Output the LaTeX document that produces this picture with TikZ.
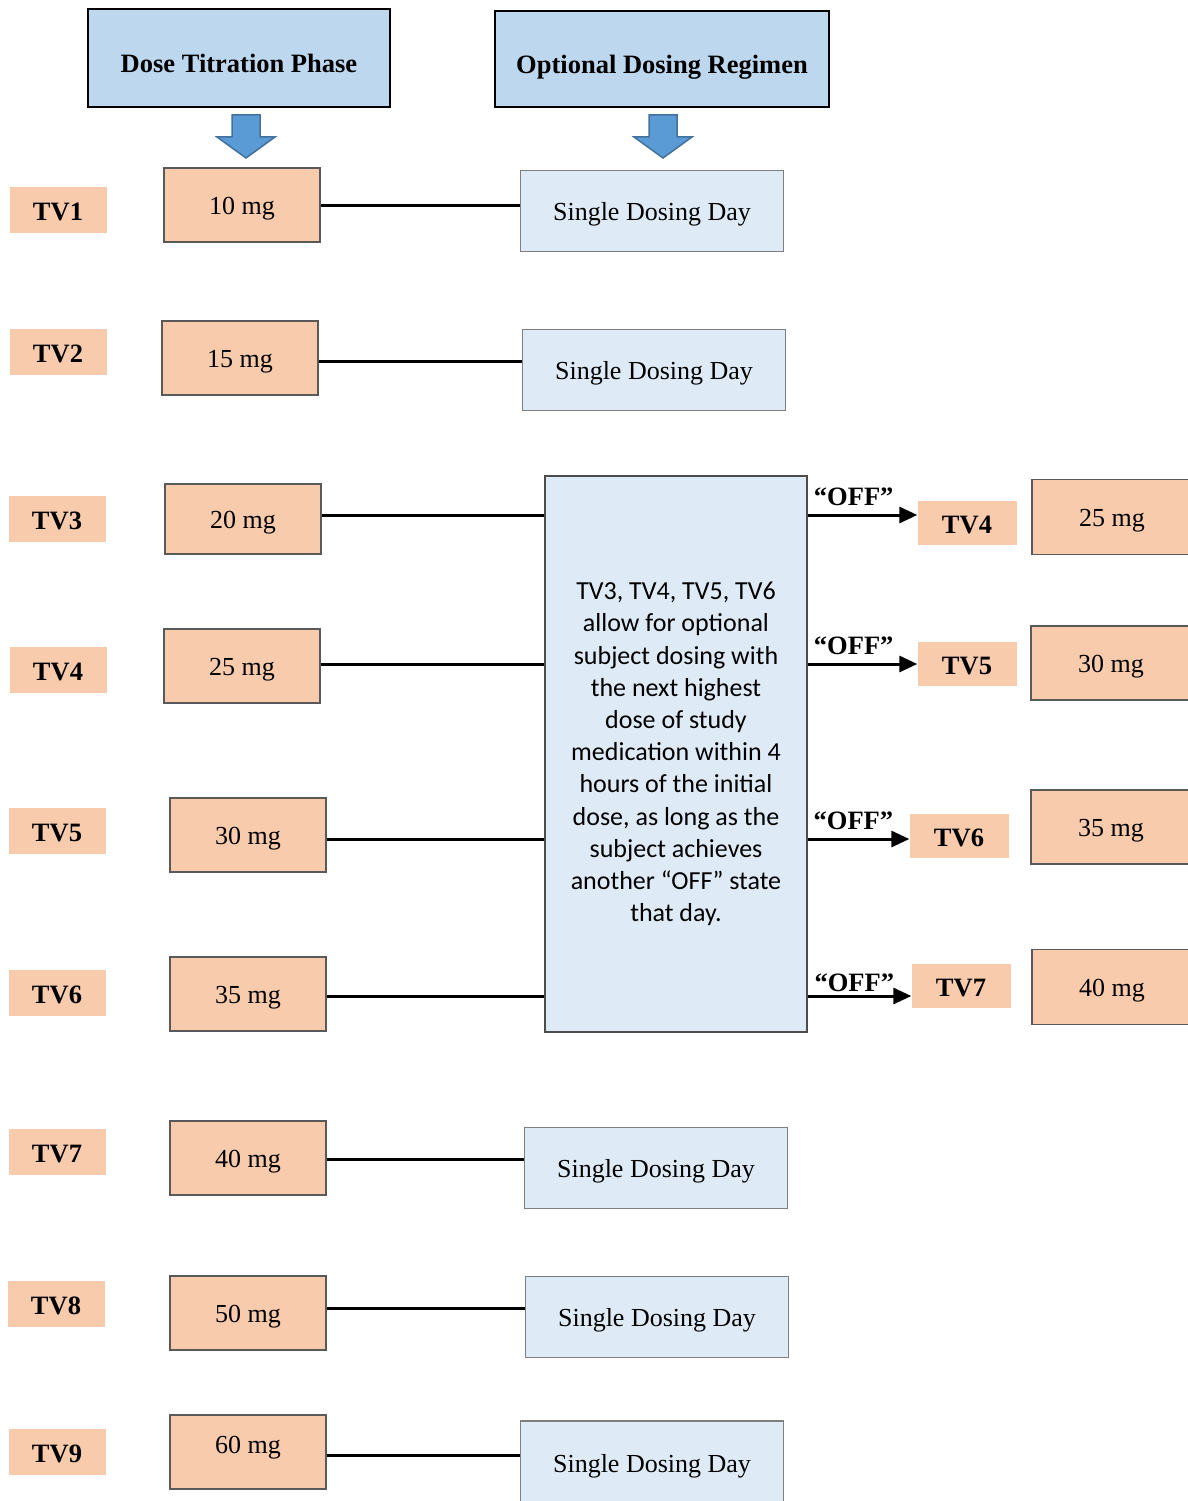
\documentclass[tikz,border=0pt]{standalone}
\usepackage{fontspec}
\setmainfont{Liberation Serif}
\newfontfamily\calibriFont{Carlito}
\usepackage{tikz}
\usetikzlibrary{shapes,arrows.meta,positioning}

\definecolor{headBlue}{HTML}{BDD7EE}
\definecolor{paleBlue}{HTML}{DEEBF7}
\definecolor{salmon}{HTML}{F8CBAD}
\definecolor{arrowBlue}{HTML}{5B9BD5}
\definecolor{arrowEdge}{HTML}{41719C}
\definecolor{doseEdge}{HTML}{595959}
\definecolor{dayEdge}{HTML}{7F7F7F}

\newcommand{\plainFont}{\fontsize{26}{30}\selectfont}
\newcommand{\heavyFont}{\fontsize{26.5}{30}\selectfont\bfseries}

\tikzstyle{phase} = [rectangle, draw=black, fill=headBlue, line width=2.5pt,
    inner sep=0pt, text height=32pt, text depth=2pt, font=\heavyFont]
\tikzstyle{tvLabel} = [rectangle, fill=salmon, minimum width=97pt,
    minimum height=46pt, inner sep=0pt, text height=21pt, text depth=0pt, font=\heavyFont]
\tikzstyle{dose} = [rectangle, draw=doseEdge, fill=salmon, line width=1.5pt,
    minimum width=156pt, minimum height=74pt, inner sep=0pt,
    text height=23pt, text depth=5pt, font=\plainFont]
\tikzstyle{singleDay} = [rectangle, draw=dayEdge, fill=paleBlue, line width=1.3pt,
    minimum width=263pt, minimum height=81pt, inner sep=0pt,
    text height=23pt, text depth=5pt, font=\plainFont]
\tikzstyle{plan} = [rectangle, draw=black!70, fill=paleBlue, line width=1.3pt,
    minimum width=262pt, minimum height=556pt, inner sep=0pt, align=center,
    font=\calibriFont\fontsize{26}{32.2}\selectfont]
\tikzstyle{link} = [draw, line width=3pt]
\tikzstyle{offLabel} = [above, inner sep=3pt, font=\heavyFont]
\tikzstyle{blockArrow} = [draw=arrowEdge, fill=arrowBlue, line width=1.5pt, line join=miter]

\begin{document}
\begin{tikzpicture}[x=1pt, y=-1pt, >={Triangle[length=18pt,width=16pt]}]
    \useasboundingbox (0,0) rectangle (1187,1501);

    % headers
    \node[phase, minimum width=302pt, minimum height=98pt] (titration) at (239,58) {Dose Titration Phase};
    \node[phase, minimum width=334pt, minimum height=96pt] (regimen) at (662,59) {Optional Dosing Regimen};

    % block arrows under the headers
    \coordinate (titrationTip) at (246,158);
    \coordinate (regimenTip) at (663,158);
    \draw[blockArrow] (titrationTip) -- ++(-29,-21) -- ++(15,0) -- ++(0,-22) -- ++(28,0)
        -- ++(0,22) -- ++(15,0) -- cycle;
    \draw[blockArrow] (regimenTip) -- ++(-29,-21) -- ++(15,0) -- ++(0,-22) -- ++(28,0)
        -- ++(0,22) -- ++(15,0) -- cycle;

    % titration visits
    \node[tvLabel] (tv1) at (58,210) {TV1};
    \node[tvLabel] (tv2) at (58,352) {TV2};
    \node[tvLabel] (tv3) at (57,519) {TV3};
    \node[tvLabel] (tv4) at (58,670) {TV4};
    \node[tvLabel] (tv5) at (57,831) {TV5};
    \node[tvLabel] (tv6) at (57,993) {TV6};
    \node[tvLabel] (tv7) at (57,1152) {TV7};
    \node[tvLabel] (tv8) at (56,1304) {TV8};
    \node[tvLabel] (tv9) at (57,1452) {TV9};

    % doses
    \node[dose] (dose10) at (242,205) {10 mg};
    \node[dose] (dose15) at (240,358) {15 mg};
    \node[dose, minimum height=70pt] (dose20) at (243,519) {20 mg};
    \node[dose] (dose25) at (242,666) {25 mg};
    \node[dose] (dose30) at (248,835) {30 mg};
    \node[dose] (dose35) at (248,994) {35 mg};
    \node[dose] (dose40) at (248,1158) {40 mg};
    \node[dose] (dose50) at (248,1313) {50 mg};
    \node[dose, text depth=20pt] (dose60) at (248,1452) {60 mg};

    % single dosing days
    \node[singleDay] (day1) at (652,211) {Single Dosing Day};
    \node[singleDay] (day2) at (654,370) {Single Dosing Day};
    \node[singleDay] (day7) at (656,1168) {Single Dosing Day};
    \node[singleDay] (day8) at (657,1317) {Single Dosing Day};
    \node[singleDay, minimum height=84pt] (day9) at (652,1463) {Single Dosing Day};

    % optional dosing box
    \node[plan] (optional) at (676,754) {TV3, TV4, TV5, TV6\\allow for optional\\subject dosing with\\the next highest\\dose of study\\medication within 4\\hours of the initial\\dose, as long as the\\subject achieves\\another “OFF” state\\that day.};

    % next visits
    \node[tvLabel, minimum width=99pt, minimum height=44pt] (nextTv4) at (967,523) {TV4};
    \node[tvLabel, minimum width=99pt, minimum height=44pt] (nextTv5) at (967,664) {TV5};
    \node[tvLabel, minimum width=99pt, minimum height=44pt] (nextTv6) at (959,836) {TV6};
    \node[tvLabel, minimum width=99pt, minimum height=44pt] (nextTv7) at (961,986) {TV7};

    \node[dose, minimum width=160pt, minimum height=75pt] (nextDose25) at (1112,517) {25 mg};
    \node[dose, minimum width=160pt] (nextDose30) at (1111,663) {30 mg};
    \node[dose, minimum width=160pt] (nextDose35) at (1111,827) {35 mg};
    \node[dose, minimum width=160pt, minimum height=75pt] (nextDose40) at (1112,987) {40 mg};

    % line heights
    \coordinate (line10) at (dose10.east);
    \coordinate (line15) at ([yshift=-3pt]dose15.east);
    \coordinate (line20) at ([yshift=4pt]dose20.east);
    \coordinate (line25) at ([yshift=2pt]dose25.east);
    \coordinate (line30) at ([yshift=-4pt]dose30.east);
    \coordinate (line35) at ([yshift=-2pt]dose35.east);
    \coordinate (line40) at ([yshift=-1pt]dose40.east);
    \coordinate (line50) at ([yshift=5pt]dose50.east);
    \coordinate (line60) at ([yshift=-3pt]dose60.east);

    \path[link] (line10) -- (line10 -| day1.west);
    \path[link] (line15) -- (line15 -| day2.west);
    \path[link] (line20) -- (line20 -| optional.west);
    \path[link] (line25) -- (line25 -| optional.west);
    \path[link] (line30) -- (line30 -| optional.west);
    \path[link] (line35) -- (line35 -| optional.west);
    \path[link] (line40) -- (line40 -| day7.west);
    \path[link] (line50) -- (line50 -| day8.west);
    \path[link] (line60) -- (line60 -| day9.west);

    \path[link,->] (line20 -| optional.east) -- node[offLabel, pos=0.42, yshift=5pt] {“OFF”} (line20 -| nextTv4.west);
    \path[link,->] (line25 -| optional.east) -- node[offLabel, pos=0.42, yshift=5pt] {“OFF”} (line25 -| nextTv5.west);
    \path[link,->] (line30 -| optional.east) -- node[offLabel, pos=0.45, yshift=5pt] {“OFF”} (line30 -| nextTv6.west);
    \path[link,->] (line35 -| optional.east) -- node[offLabel, pos=0.45] {“OFF”} (line35 -| nextTv7.west);
\end{tikzpicture}
\end{document}
